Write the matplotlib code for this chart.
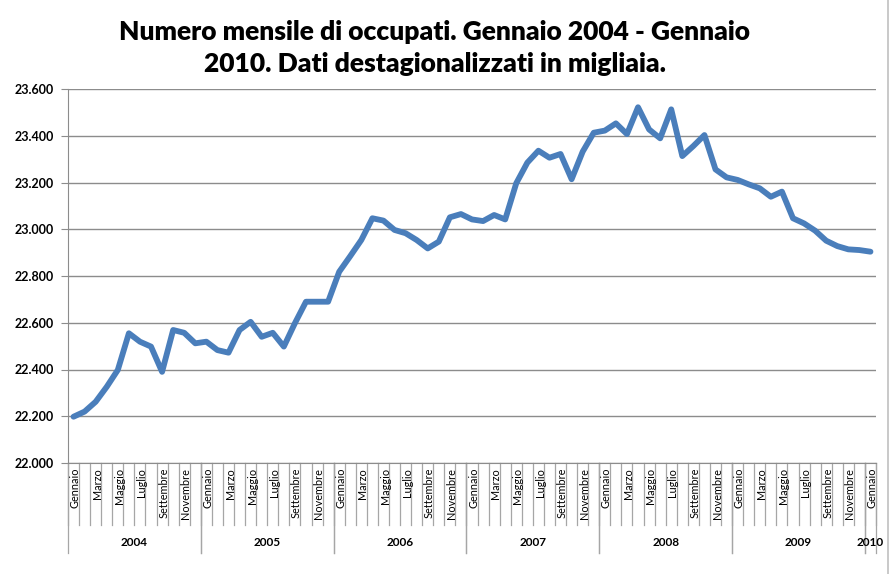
import matplotlib
matplotlib.use("Agg")
import matplotlib.pyplot as plt
from matplotlib.lines import Line2D

# occupati, migliaia, dati destagionalizzati (gen 2004 - gen 2010)
mesi = ["Gennaio", "Febbraio", "Marzo", "Aprile", "Maggio", "Giugno",
        "Luglio", "Agosto", "Settembre", "Ottobre", "Novembre", "Dicembre"]
anni = [2004, 2005, 2006, 2007, 2008, 2009, 2010]

occ_2004 = [22198, 22220, 22262, 22326, 22398, 22555, 22519, 22498, 22390, 22569, 22557, 22512]
occ_2005 = [22519, 22483, 22472, 22569, 22604, 22540, 22557, 22498, 22598, 22690, 22690, 22690]
occ_2006 = [22818, 22885, 22954, 23047, 23037, 22997, 22983, 22954, 22918, 22947, 23051, 23065]
occ_2007 = [23042, 23035, 23061, 23042, 23197, 23285, 23336, 23306, 23322, 23214, 23332, 23413]
occ_2008 = [23422, 23453, 23407, 23522, 23427, 23389, 23513, 23313, 23356, 23403, 23256, 23222]
occ_2009 = [23211, 23192, 23175, 23139, 23161, 23047, 23025, 22994, 22951, 22928, 22914, 22911]
occ_2010 = [22904]

titolo = "Numero mensile di occupati. Gennaio 2004 - Gennaio\n2010. Dati destagionalizzati in migliaia."


def main():
    plt.rcParams["font.family"] = ["Lato", "DejaVu Sans"]

    valori = occ_2004 + occ_2005 + occ_2006 + occ_2007 + occ_2008 + occ_2009 + occ_2010
    etichette = []
    gruppi = []
    for a, serie in zip(anni, [occ_2004, occ_2005, occ_2006, occ_2007, occ_2008, occ_2009, occ_2010]):
        gruppi.append((a, len(etichette), len(etichette) + len(serie)))
        etichette += mesi[:len(serie)]
    xs = list(range(len(valori)))

    fig = plt.figure(figsize=(8.93, 5.74), dpi=100)
    ax = fig.add_axes([68 / 893, 1 - 463 / 574, 808 / 893, 374 / 574])

    grid_col = "#8c8c8c"
    ax.plot(xs, valori, color="#4a7ebb", lw=4.2, solid_joinstyle="round",
            solid_capstyle="round", zorder=3)

    ax.set_xlim(-0.5, len(valori) - 0.5)
    ax.set_ylim(22000, 23600)
    yt = list(range(22000, 23601, 200))
    ax.set_yticks(yt)
    ax.set_yticklabels([f"{v:,}".replace(",", ".") for v in yt],
                       fontsize=9, fontweight="bold")
    ax.tick_params(axis="y", length=5, color=grid_col, pad=5)
    ax.set_xticks([])
    ax.grid(axis="y", color=grid_col, lw=1, zorder=1)
    ax.set_axisbelow(True)
    for s in ["top", "right"]:
        ax.spines[s].set_visible(False)
    for s in ["left", "bottom"]:
        ax.spines[s].set_color(grid_col)

    tr = ax.get_xaxis_transform()
    h = 374.0
    # separatori mesi
    for k in range(len(valori) + 1):
        ax.add_line(Line2D([k - 0.5, k - 0.5], [0, -62 / h], transform=tr,
                           color="#a6a6a6", lw=0.9, clip_on=False))
    # separatori anni
    for a, i0, i1 in gruppi:
        for b in (i0, i1):
            ax.add_line(Line2D([b - 0.5, b - 0.5], [0, -90 / h], transform=tr,
                               color="#a6a6a6", lw=0.9, clip_on=False))
        ax.text((i0 + i1 - 1) / 2, -80 / h, str(a), transform=tr,
                ha="center", va="center", fontsize=8.5, fontweight="bold")
    # etichette mesi, una ogni due
    for i, m in enumerate(etichette):
        if i % 2 == 0:
            ax.text(i + 0.15, -5 / h, m, transform=tr, rotation=90,
                    ha="center", va="top", fontsize=7.8)

    fig.text(0.487, 1 - 48 / 574, titolo, ha="center", va="center",
             fontsize=19, fontweight="heavy", linespacing=1.45)

    # bordo dell'area grafico
    fig.add_artist(Line2D([888 / 893, 888 / 893], [0, 1], transform=fig.transFigure,
                          color="#c0c0c0", lw=1.2))

    fig.savefig("out.png", dpi=100)


if __name__ == "__main__":
    main()
